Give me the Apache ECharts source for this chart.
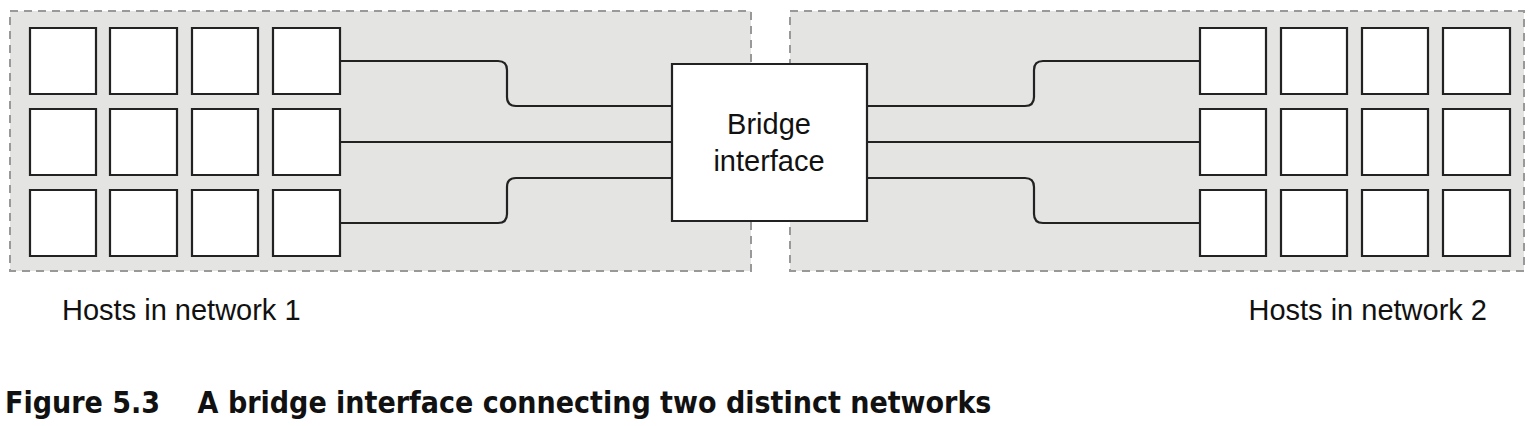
<!DOCTYPE html>
<html>
<head>
<meta charset="utf-8">
<script src="https://cdn.jsdelivr.net/npm/echarts@6/dist/echarts.min.js"></script>
<style>
  html, body { margin: 0; padding: 0; background: #fff; }
  #chart { width: 1534px; height: 426px; }
</style>
</head>
<body>
<div id="chart"></div>
<script>
// network regions [x0, y0, x1, y1]
var regions = [[10, 11, 751, 271], [790, 11, 1524, 271]];
// host box columns and rows
var leftCols = [[30, 96], [110, 177], [192, 258], [273, 340]];
var rightCols = [[1200, 1266], [1281, 1347], [1362, 1428], [1443, 1510]];
var hostRows = [[28, 94], [109, 175], [190, 256]];
// bridge box
var bridge = [672, 64, 867, 221];
// connectors: [xStart, yStart, xBend, yEnd, xEnd]
var links = [
  [340, 61, 507, 106, 672],
  [340, 142, 507, 142, 672],
  [340, 223, 507, 178, 672],
  [867, 106, 1034, 61, 1200],
  [867, 142, 1034, 142, 1200],
  [867, 178, 1034, 223, 1200]
];
var regionLabels = ['Hosts in network 1', 'Hosts in network 2'];
var caption = 'Figure 5.3    A bridge interface connecting two distinct networks';

(function () {
  'use strict';
  var chart = echarts.init(document.getElementById('chart'), null, { renderer: 'svg' });

  var hosts = [];
  [leftCols, rightCols].forEach(function (cols) {
    cols.forEach(function (c) {
      hostRows.forEach(function (r) { hosts.push([c[0], r[0], c[1], r[1]]); });
    });
  });

  function rectItem(style) {
    return function (params, api) {
      var p0 = api.coord([api.value(0), api.value(1)]);
      var p1 = api.coord([api.value(2), api.value(3)]);
      return {
        type: 'rect',
        shape: { x: p0[0], y: p0[1], width: p1[0] - p0[0], height: p1[1] - p0[1] },
        style: style
      };
    };
  }

  function linkItem(params, api) {
    var a = api.coord([api.value(0), api.value(1)]);
    var b = api.coord([api.value(2), api.value(3)]);
    var e = api.coord([api.value(4), api.value(3)]);
    var path;
    if (Math.abs(a[1] - b[1]) < 1) {
      path = 'M' + a[0] + ' ' + a[1] + 'L' + e[0] + ' ' + e[1];
    } else {
      var r = 9, d = b[1] > a[1] ? 1 : -1;
      path = 'M' + a[0] + ' ' + a[1] +
        'L' + (b[0] - r) + ' ' + a[1] +
        'Q' + b[0] + ' ' + a[1] + ' ' + b[0] + ' ' + (a[1] + d * r) +
        'L' + b[0] + ' ' + (b[1] - d * r) +
        'Q' + b[0] + ' ' + b[1] + ' ' + (b[0] + r) + ' ' + b[1] +
        'L' + e[0] + ' ' + e[1];
    }
    return { type: 'path', shape: { pathData: path },
      style: { fill: 'none', stroke: '#222', lineWidth: 2.2 } };
  }

  var font = '29px "Liberation Sans", Arial';

  chart.setOption({
    animation: false,
    grid: { left: 0, right: 0, top: 0, bottom: 0 },
    xAxis: { type: 'value', min: 0, max: 1534, show: false },
    yAxis: { type: 'value', min: 0, max: 426, inverse: true, show: false },
    series: [
      { type: 'custom', data: regions, silent: true,
        renderItem: rectItem({ fill: '#e4e4e3', stroke: '#999', lineWidth: 2, lineDash: [8, 6] }) },
      { type: 'custom', data: links, silent: true, renderItem: linkItem },
      { type: 'custom', data: hosts, silent: true,
        renderItem: rectItem({ fill: '#fff', stroke: '#222', lineWidth: 2.2 }) },
      { type: 'custom', data: [bridge], silent: true,
        renderItem: rectItem({ fill: '#fff', stroke: '#222', lineWidth: 2.2 }) }
    ],
    graphic: [
      { type: 'text', x: 769, y: 105, z: 100, style: { text: 'Bridge\ninterface',
        textAlign: 'center', font: font, fill: '#111', lineHeight: 37 } },
      { type: 'text', left: 62, top: 295, style: { text: regionLabels[0], font: font, fill: '#111' } },
      { type: 'text', right: 47, top: 295, style: { text: regionLabels[1], font: font, fill: '#111' } },
      { type: 'text', left: 5, top: 387, style: { text: caption,
        font: 'bold 30px "DejaVu Sans Condensed", "Liberation Sans", Arial', fill: '#111' } }
    ]
  });
})();
</script>
</body>
</html>
